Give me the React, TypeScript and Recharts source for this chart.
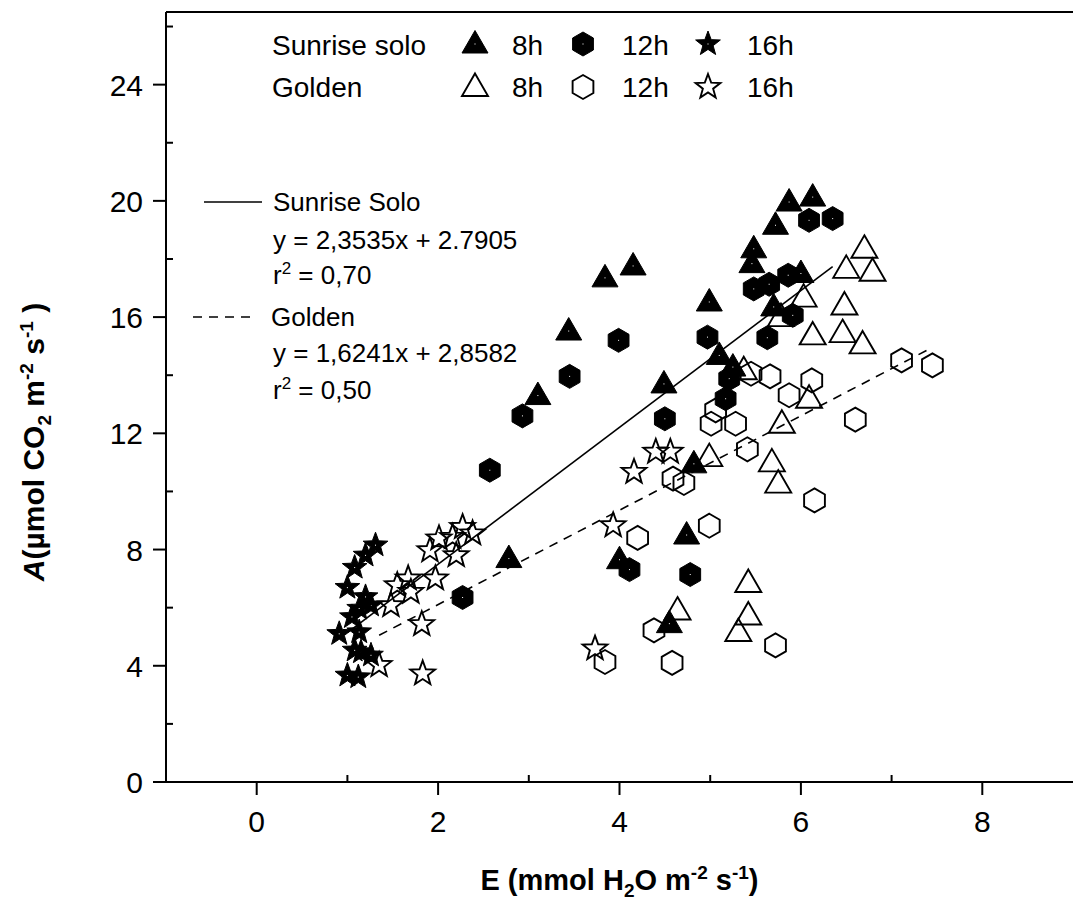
import React from "react";
import { Legend, ReferenceLine, Scatter, ScatterChart, XAxis, YAxis } from "recharts";

const FONT = "'Liberation Sans', Arial, Helvetica, sans-serif";

// E (x), A (y) pairs
const sunrise8h: [number, number][] = [
  [2.78, 7.69], [3.1, 13.3], [3.44, 15.52], [3.84, 17.35], [4.15, 17.76],
  [4.49, 13.7], [4.99, 16.52], [5.1, 14.68], [5.25, 14.28], [5.46, 17.84],
  [5.48, 18.35], [5.7, 16.35], [5.72, 19.16], [5.87, 19.96], [6.0, 17.5],
  [6.13, 20.13], [4.82, 10.95], [4.0, 7.65], [4.74, 8.5], [4.55, 5.45],
];
const sunrise12h: [number, number][] = [
  [2.27, 6.35], [2.57, 10.73], [2.93, 12.6], [3.45, 13.96], [3.99, 15.2],
  [4.5, 12.5], [4.97, 15.31], [5.17, 13.19], [5.21, 13.88], [5.48, 16.97],
  [5.63, 15.29], [5.65, 17.13], [5.86, 17.44], [5.91, 16.06], [6.09, 19.33],
  [6.35, 19.39], [4.11, 7.31], [4.78, 7.14],
];
const sunrise16h: [number, number][] = [
  [1.31, 8.15], [1.2, 7.8], [1.08, 7.38], [1.0, 6.69], [1.2, 6.37],
  [1.26, 6.08], [1.13, 5.97], [1.05, 5.68], [1.13, 5.16], [0.91, 5.1],
  [1.15, 4.47], [1.26, 4.36], [1.08, 4.53], [1.0, 3.67], [1.12, 3.61],
];
const golden8h: [number, number][] = [
  [6.7, 18.35], [6.5, 17.66], [6.79, 17.56], [6.03, 16.67], [6.48, 16.4],
  [5.78, 16.0], [6.13, 15.37], [6.46, 15.45], [6.68, 15.06], [5.37, 14.17],
  [6.09, 13.19], [5.79, 12.33], [5.68, 11.0], [5.75, 10.27], [4.99, 11.18],
  [5.42, 6.85], [4.64, 5.9], [5.42, 5.73], [5.31, 5.16],
];
const golden12h: [number, number][] = [
  [7.11, 14.51], [7.45, 14.34], [5.45, 14.05], [5.66, 13.96], [6.12, 13.82],
  [5.87, 13.31], [6.6, 12.47], [5.01, 12.33], [5.28, 12.33], [5.06, 12.79],
  [5.41, 11.45], [4.59, 10.44], [4.71, 10.29], [6.15, 9.69], [4.2, 8.4],
  [4.99, 8.82], [4.38, 5.22], [5.72, 4.7], [3.84, 4.13], [4.58, 4.1],
];
const golden16h: [number, number][] = [
  [4.4, 11.36], [4.56, 11.36], [4.16, 10.67], [3.93, 8.83], [2.27, 8.77],
  [2.38, 8.55], [2.01, 8.38], [2.16, 8.43], [1.91, 7.97], [2.2, 7.8],
  [1.97, 7.0], [1.55, 6.77], [1.67, 7.0], [1.7, 6.54], [1.48, 6.08],
  [1.82, 5.43], [1.35, 4.02], [1.83, 3.73], [3.73, 4.59],
];

// regression line end points
const sunriseFit: [number, number][] = [[1.0, 5.14], [6.35, 17.74]];
const goldenFit: [number, number][] = [[1.35, 5.05], [7.39, 14.86]];

const xTicks = [0, 1, 2, 3, 4, 5, 6, 7, 8];
const yTicks = [0, 2, 4, 6, 8, 10, 12, 14, 16, 18, 20, 22, 24, 26];

const toPts = (arr: [number, number][]) => arr.map(([x, y]) => ({ x, y }));

type Kind = "triangle" | "hexagon" | "star";

function markerPath(kind: Kind, cx: number, cy: number) {
  if (kind === "triangle") {
    return `M${cx},${cy - 13.5}L${cx + 13},${cy + 9}L${cx - 13},${cy + 9}Z`;
  }
  const pts: string[] = [];
  if (kind === "hexagon") {
    for (let i = 0; i < 6; i++) {
      const a = ((-90 + i * 60) * Math.PI) / 180;
      pts.push(`${cx + 12 * Math.cos(a)},${cy + 12 * Math.sin(a)}`);
    }
  } else {
    for (let i = 0; i < 10; i++) {
      const r = i % 2 === 0 ? 13 : 5.4;
      const a = ((-90 + i * 36) * Math.PI) / 180;
      pts.push(`${cx + r * Math.cos(a)},${cy + r * Math.sin(a)}`);
    }
  }
  return `M${pts.join("L")}Z`;
}

function Marker({ kind, filled, cx, cy }: { kind: Kind; filled: boolean; cx: number; cy: number }) {
  return (
    <g>
      <path
        d={markerPath(kind, cx, cy)}
        fill={filled ? "#000" : "none"}
        stroke="#000"
        strokeWidth={filled ? 1 : 1.9}
      />
      {filled && <rect x={cx - 0.5} y={cy - 0.5} width={1} height={1} fill="#fff" />}
    </g>
  );
}

const shapeOf = (kind: Kind, filled: boolean) => (props: any) => {
  if (props.cx == null || props.cy == null) return <g />;
  return <Marker kind={kind} filled={filled} cx={props.cx} cy={props.cy} />;
};

function XTick(props: any) {
  const { x, y, payload } = props;
  const v = payload.value;
  const major = v % 2 === 0;
  return (
    <g>
      <line x1={x} x2={x} y1={y} y2={major ? y + 13 : y - 7} stroke="#000" strokeWidth={2} />
      {major && (
        <text x={x} y={y + 50} textAnchor="middle" fontSize={30} fontFamily={FONT} fill="#000">
          {v}
        </text>
      )}
    </g>
  );
}

function YTick(props: any) {
  const { x, y, payload } = props;
  const v = payload.value;
  const major = v % 4 === 0;
  return (
    <g>
      <line x1={x} x2={major ? x - 13 : x + 7} y1={y} y2={y} stroke="#000" strokeWidth={2} />
      {major && (
        <text x={x - 23} y={y + 11} textAnchor="end" fontSize={30} fontFamily={FONT} fill="#000">
          {v}
        </text>
      )}
    </g>
  );
}

function XTitle(props: any) {
  const vb = props.viewBox || { x: 166, y: 782, width: 907 };
  const cx = vb.x + vb.width / 2;
  return (
    <text x={cx} y={vb.y + 108} textAnchor="middle" fontSize={29} fontWeight="bold" fontFamily={FONT} fill="#000">
      <tspan>E (mmol H</tspan>
      <tspan dy={7} fontSize={19}>2</tspan>
      <tspan dy={-7}>O m</tspan>
      <tspan dy={-11} fontSize={19}>-2</tspan>
      <tspan dy={11}> s</tspan>
      <tspan dy={-11} fontSize={19}>-1</tspan>
      <tspan dy={11}>)</tspan>
    </text>
  );
}

function YTitle() {
  const cx = 44;
  const cy = 442;
  return (
    <text
      x={cx}
      y={cy}
      transform={`rotate(-90, ${cx}, ${cy})`}
      textAnchor="middle"
      fontSize={30}
      fontWeight="bold"
      fontFamily={FONT}
      fill="#000"
    >
      <tspan fontStyle="italic">A</tspan>
      <tspan>(µmol CO</tspan>
      <tspan dy={7} fontSize={19}>2</tspan>
      <tspan dy={-7}> m</tspan>
      <tspan dy={-11} fontSize={19}>-2</tspan>
      <tspan dy={11}> s</tspan>
      <tspan dy={-11} fontSize={19}>-1</tspan>
      <tspan dy={11}> )</tspan>
    </text>
  );
}

function ChartLegend() {
  const t = { fontFamily: FONT, fill: "#000" };
  const rows = [
    { label: "Sunrise solo", filled: true, cy: 44, base: 55 },
    { label: "Golden", filled: false, cy: 87, base: 97 },
  ];
  const cols: { kind: Kind; mx: number; tx: number; text: string }[] = [
    { kind: "triangle", mx: 475, tx: 512, text: "8h" },
    { kind: "hexagon", mx: 583, tx: 622, text: "12h" },
    { kind: "star", mx: 708, tx: 747, text: "16h" },
  ];
  return (
    <svg width={1073} height={420} style={{ display: "block" }}>
      {rows.map((r) => (
        <g key={r.label}>
          <text x={272} y={r.base} fontSize={28} {...t}>{r.label}</text>
          {cols.map((c) => (
            <g key={c.text}>
              <Marker kind={c.kind} filled={r.filled} cx={c.mx} cy={r.cy} />
              <text x={c.tx} y={r.base} fontSize={28} {...t}>{c.text}</text>
            </g>
          ))}
        </g>
      ))}
      <line x1={204} x2={262} y1={202} y2={202} stroke="#000" strokeWidth={1.6} />
      <text x={273} y={211} fontSize={26} {...t}>Sunrise Solo</text>
      <text x={273} y={249} fontSize={26} {...t}>y = 2,3535x + 2.7905</text>
      <text x={273} y={284} fontSize={26} {...t}>
        r<tspan dy={-10} fontSize={17}>2</tspan><tspan dy={10}> = 0,70</tspan>
      </text>
      <line x1={193} x2={250} y1={317} y2={317} stroke="#000" strokeWidth={1.6} strokeDasharray="9 7" />
      <text x={271} y={326} fontSize={26} {...t}>Golden</text>
      <text x={273} y={362} fontSize={26} {...t}>y = 1,6241x + 2,8582</text>
      <text x={273} y={399} fontSize={26} {...t}>
        r<tspan dy={-10} fontSize={17}>2</tspan><tspan dy={10}> = 0,50</tspan>
      </text>
    </svg>
  );
}

export default function App() {
  return (
    <div style={{ position: "absolute", left: 0, top: 0, background: "#fff" }}>
      <ScatterChart width={1073} height={902} margin={{ top: 12, right: 0, bottom: 0, left: 0 }}>
        <XAxis
          type="number"
          dataKey="x"
          domain={[-1, 9]}
          ticks={xTicks}
          interval={0}
          allowDataOverflow
          height={120}
          tickSize={0}
          tickMargin={0}
          tickLine={false}
          axisLine={{ stroke: "#000", strokeWidth: 2 }}
          tick={<XTick />}
          label={<XTitle />}
        />
        <YAxis
          type="number"
          dataKey="y"
          domain={[0, 26.5]}
          ticks={yTicks}
          interval={0}
          allowDataOverflow
          width={166}
          tickSize={0}
          tickMargin={0}
          tickLine={false}
          axisLine={{ stroke: "#000", strokeWidth: 2 }}
          tick={<YTick />}
          label={<YTitle />}
        />
        <ReferenceLine y={26.5} stroke="#000" strokeWidth={2} ifOverflow="visible" />
        <Scatter name="Sunrise 8h" data={toPts(sunrise8h)} shape={shapeOf("triangle", true)} isAnimationActive={false} />
        <Scatter name="Sunrise 12h" data={toPts(sunrise12h)} shape={shapeOf("hexagon", true)} isAnimationActive={false} />
        <Scatter name="Sunrise 16h" data={toPts(sunrise16h)} shape={shapeOf("star", true)} isAnimationActive={false} />
        <Scatter name="Golden 8h" data={toPts(golden8h)} shape={shapeOf("triangle", false)} isAnimationActive={false} />
        <Scatter name="Golden 12h" data={toPts(golden12h)} shape={shapeOf("hexagon", false)} isAnimationActive={false} />
        <Scatter name="Golden 16h" data={toPts(golden16h)} shape={shapeOf("star", false)} isAnimationActive={false} />
        <Scatter
          name="Sunrise fit"
          data={toPts(sunriseFit)}
          fill="#000"
          line={{ stroke: "#000", strokeWidth: 1.6 }}
          lineType="joint"
          shape={() => <g />}
          isAnimationActive={false}
        />
        <Scatter
          name="Golden fit"
          data={toPts(goldenFit)}
          fill="#000"
          line={{ stroke: "#000", strokeWidth: 1.6, strokeDasharray: "9 7" }}
          lineType="joint"
          shape={() => <g />}
          isAnimationActive={false}
        />
        <Legend
          layout="horizontal"
          verticalAlign="middle"
          align="center"
          content={() => <ChartLegend />}
          wrapperStyle={{ left: 0, top: 0, width: 1073, height: 420, pointerEvents: "none" }}
        />
      </ScatterChart>
    </div>
  );
}
